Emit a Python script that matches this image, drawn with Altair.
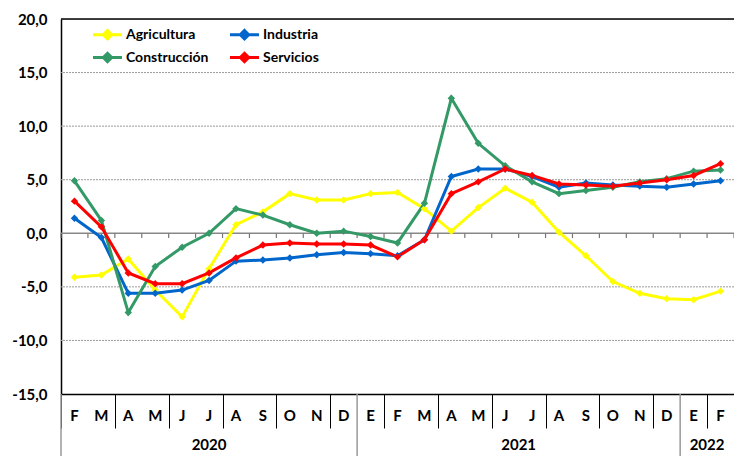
import altair as alt
import pandas as pd

months = ["F","M","A","M","J","J","A","S","O","N","D","E","F","M","A","M","J","J","A","S","O","N","D","E","F"]
agricultura = [-4.1,-3.9,-2.4,-5.3,-7.8,-3.3,0.8,2.0,3.7,3.1,3.1,3.7,3.8,2.3,0.2,2.4,4.2,2.9,0.1,-2.1,-4.5,-5.6,-6.1,-6.2,-5.4]
industria = [1.4,-0.4,-5.6,-5.6,-5.3,-4.4,-2.6,-2.5,-2.3,-2.0,-1.8,-1.9,-2.1,-0.6,5.3,6.0,6.0,5.3,4.3,4.7,4.5,4.4,4.3,4.6,4.9]
construccion = [4.9,1.2,-7.4,-3.1,-1.3,0.0,2.3,1.7,0.8,0.0,0.2,-0.3,-0.9,2.8,12.6,8.4,6.3,4.8,3.7,4.0,4.3,4.8,5.1,5.8,5.9]
servicios = [3.0,0.6,-3.7,-4.7,-4.7,-3.7,-2.3,-1.1,-0.9,-1.0,-1.0,-1.1,-2.2,-0.6,3.7,4.8,6.0,5.4,4.6,4.5,4.4,4.7,5.0,5.4,6.5]
series_names = ["Agricultura", "Industria", "Construcción", "Servicios"]
series_colors = ["#FFFF00", "#0066CC", "#339966", "#FF0000"]
legend_order = ["Agricultura", "Construcción", "Industria", "Servicios"]
years = ["2020", "2021", "2022"]
year_centers = [5, 16.5, 23.5]
year_bounds = [-0.5, 10.5, 22.5]
grid_values = [-10, -5, 5, 10, 15]

W, H = 673, 375
FONT = "Lato"

rows = []
for name, vals in zip(series_names, [agricultura, industria, construccion, servicios]):
    for i, v in enumerate(vals):
        rows.append({"serie": name, "idx": i, "valor": v})
df = pd.DataFrame(rows)

bounds = [i - 0.5 for i in range(26)]
df_bounds = pd.DataFrame({"b": bounds})
df_months = pd.DataFrame({"idx": list(range(len(months))), "m": months})
df_years = pd.DataFrame({"x": year_centers, "y": years})
df_ybounds = pd.DataFrame({"x": year_bounds})
df_grid = pd.DataFrame({"g": grid_values})

xscale = alt.Scale(domain=[-0.5, 24.5], nice=False, zero=False)
yscale = alt.Scale(domain=[-15, 20], nice=False, zero=False)

label_expr = ("datum.value < 0 ? '-' + replace(format(-datum.value, '.1f'), '.', ',') "
              ": replace(format(datum.value, '.1f'), '.', ',')")

base_x = alt.X("b:Q", scale=xscale, axis=alt.Axis(values=bounds, tickSize=34, tickColor="#000",
                                                    tickWidth=1, labels=False, domainColor="#000",
                                                    domainWidth=1.5, grid=False, title=None))

axes = alt.Chart(df_bounds).mark_rule(opacity=0).encode(
    x=base_x, y=alt.datum(0, type="quantitative", scale=yscale,
                          axis=alt.Axis(values=list(range(-15, 21, 5)), labelExpr=label_expr,
                                        domainColor="#000", domainWidth=1.5, ticks=False,
                                        labelPadding=14, labelFontWeight="bold",
                                        labelFontSize=15, labelFont=FONT, labelColor="#000",
                                        grid=False, title=None))
)

grid = alt.Chart(df_grid).mark_rule(color="#9a9a9a", strokeDash=[2, 1], strokeWidth=1).encode(
    y=alt.Y("g:Q", scale=yscale)
)
zero = alt.Chart(pd.DataFrame({"z": [0]})).mark_rule(color="#888", strokeWidth=1.5).encode(
    y=alt.Y("z:Q", scale=yscale)
)
top = alt.Chart(pd.DataFrame({"t": [20]})).mark_rule(color="#000", strokeWidth=1.5).encode(
    y=alt.Y("t:Q", scale=yscale)
)
zticks = alt.Chart(pd.DataFrame({"b": bounds, "y0": [0] * 26, "y1": [-0.45] * 26})).mark_rule(
    color="#777", strokeWidth=1.2).encode(
    x=alt.X("b:Q", scale=xscale), y=alt.Y("y0:Q", scale=yscale), y2="y1:Q"
)

ysep = alt.Chart(df_ybounds).mark_rule(color="#999", strokeWidth=1.5).encode(
    x=alt.X("x:Q", scale=xscale), y=alt.value(H), y2=alt.value(H + 70)
)

mtext = alt.Chart(df_months).mark_text(font=FONT, fontSize=15, fontWeight="bold", color="#000",
                                       baseline="middle").encode(
    x=alt.X("idx:Q", scale=xscale), y=alt.value(H + 22), text="m:N"
)
ytext = alt.Chart(df_years).mark_text(font=FONT, fontSize=15, fontWeight="bold", color="#000",
                                      baseline="middle").encode(
    x=alt.X("x:Q", scale=xscale), y=alt.value(H + 51), text="y:N"
)

legend_symbol = "M-1.45,0L1.45,0M0,-0.42L0.42,0L0,0.42L-0.42,0Z"

lines = alt.Chart(df).mark_line(
    strokeWidth=3,
    point=alt.OverlayMarkDef(shape="diamond", size=55, filled=True)
).encode(
    x=alt.X("idx:Q", scale=xscale),
    y=alt.Y("valor:Q", scale=yscale),
    color=alt.Color("serie:N", scale=alt.Scale(domain=series_names, range=series_colors),
                    legend=alt.Legend(orient="none", legendX=35, legendY=4, columns=2, title=None,
                                      values=legend_order,
                                      symbolType=legend_symbol, symbolSize=400, symbolStrokeWidth=3,
                                      labelFont=FONT, labelFontSize=14, labelFontWeight="bold",
                                      labelColor="#000", columnPadding=15, rowPadding=1,
                                      labelOffset=7, symbolOffset=0)),
    order="idx:Q",
)

chart = alt.layer(axes, grid, zero, top, zticks, ysep, mtext, ytext, lines).properties(
    width=W, height=H, autosize=alt.AutoSizeParams(type="none"),
    padding={"left": 53, "top": 11, "right": 0, "bottom": 62}
).configure_view(stroke=None).configure(background="white")

chart.save("out.html", embed_options={"renderer": "svg", "actions": False})
